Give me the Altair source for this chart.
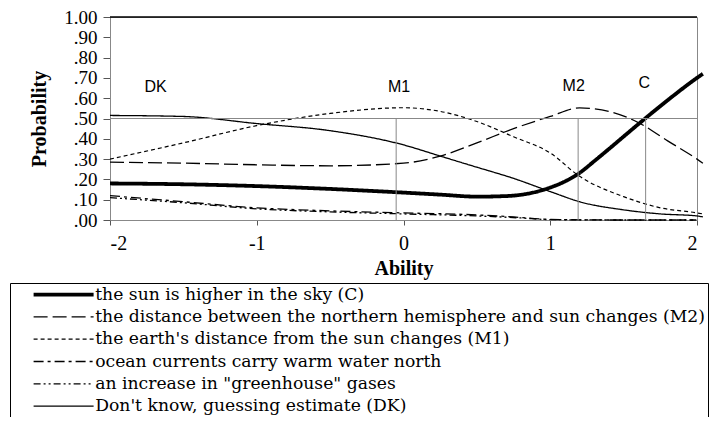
import altair as alt
import pandas as pd

series_order = [
    "the sun is higher in the sky (C)",
    "the distance between the northern hemisphere and sun changes (M2)",
    "the earth's distance from the sun changes (M1)",
    "ocean currents carry warm water north",
    "an increase in \"greenhouse\" gases",
    "Don't know, guessing estimate (DK)",
]

c_x = [-2, -1.5, -1, -0.5, 0, 0.25, 0.5, 0.7, 0.9, 1.0, 1.1, 1.2, 1.3, 1.4, 1.6, 1.8, 2.0, 2.04]
c_y = [0.18, 0.176, 0.167, 0.153, 0.135, 0.125, 0.115, 0.118, 0.138, 0.16, 0.19, 0.232, 0.29, 0.35, 0.472, 0.59, 0.70, 0.72]

m2_x = [-2, -1.5, -1, -0.5, 0, 0.25, 0.5, 0.75, 1.0, 1.2, 1.4, 1.6, 1.8, 2.0, 2.04]
m2_y = [0.285, 0.28, 0.272, 0.267, 0.28, 0.315, 0.38, 0.45, 0.51, 0.552, 0.535, 0.48, 0.39, 0.30, 0.28]

m1_x = [-2, -1.5, -1, -0.5, 0, 0.25, 0.5, 0.75, 1.0, 1.2, 1.5, 1.75, 2.0, 2.04]
m1_y = [0.30, 0.38, 0.465, 0.525, 0.553, 0.535, 0.485, 0.41, 0.33, 0.215, 0.115, 0.06, 0.035, 0.03]

ocean_x = [-2, -1.5, -1, -0.5, 0, 0.5, 0.75, 1.0, 1.5, 2.0]
ocean_y = [0.12, 0.09, 0.06, 0.045, 0.035, 0.025, 0.015, 0.003, 0.0, 0.0]

green_x = [-2, -1.5, -1, -0.5, 0, 0.5, 0.8, 1.0, 1.5, 2.0]
green_y = [0.11, 0.085, 0.055, 0.04, 0.03, 0.02, 0.01, 0.002, 0.0, 0.0]

dk_x = [-2, -1.5, -1, -0.5, 0, 0.25, 0.5, 0.75, 1.0, 1.2, 1.5, 1.75, 2.0, 2.04]
dk_y = [0.515, 0.51, 0.475, 0.44, 0.37, 0.315, 0.26, 0.205, 0.14, 0.09, 0.05, 0.03, 0.02, 0.015]

cut_x = [-0.05, 1.19, 1.65]
cut_level = 0.5

label_text = ["DK", "M1", "M2", "C"]
label_x = [-1.69, -0.03, 1.16, 1.64]
label_y = [0.655, 0.655, 0.66, 0.675]

x_ticks = [-2, -1, 0, 1, 2]
y_ticks = [i / 10 for i in range(11)]

dash_range = [[1, 0], [14, 5], [4, 3], [10, 4, 3, 4], [7, 3, 2, 3, 2, 3], [1, 0]]
width_range = [3.8, 1.3, 1.2, 1.3, 1.3, 1.3]

rows = []
for name, xs, ys in zip(series_order,
                        [c_x, m2_x, m1_x, ocean_x, green_x, dk_x],
                        [c_y, m2_y, m1_y, ocean_y, green_y, dk_y]):
    for a, p in zip(xs, ys):
        rows.append({"series": name, "ability": a, "prob": p})
curves = pd.DataFrame(rows)

cuts = pd.DataFrame({"x": cut_x, "y0": [0.0] * len(cut_x), "y1": [cut_level] * len(cut_x)})
hline = pd.DataFrame({"y": [cut_level]})
topline = pd.DataFrame({"y": [1.0]})
labels = pd.DataFrame({"t": label_text, "x": label_x, "y": label_y})

serif = "Liberation Serif"
legend_font = "DejaVu Serif"
sans = "Liberation Sans"

xscale = alt.Scale(domain=[-2, 2], nice=False)
yscale = alt.Scale(domain=[0, 1], nice=False)

xaxis = alt.Axis(title="Ability", values=x_ticks, grid=False, labelOverlap=False,
                 labelExpr="datum.value + ''",
                 labelFont=serif, labelFontSize=20, labelColor="black", labelPadding=8,
                 tickSize=5, tickColor="#555", domainColor="#888",
                 titleFont=serif, titleFontSize=20, titleFontWeight="bold", titleColor="black",
                 titlePadding=5)
yaxis = alt.Axis(title="Probability", values=y_ticks, grid=False, labelOverlap=False,
                 labelExpr="replace(format(datum.value, '.2f'), '0.', '.')",
                 labelFont=serif, labelFontSize=19, labelColor="black", labelPadding=6,
                 tickSize=7, tickColor="#555", domainColor="#888",
                 titleFont=serif, titleFontSize=20, titleFontWeight="bold", titleColor="black",
                 titlePadding=14)

legend = alt.Legend(title=None, orient="none", legendX=-100, legendY=266, direction="vertical",
                    symbolType="M-6,0H6", symbolSize=100, symbolStrokeColor="black",
                    labelFont=legend_font, labelFontSize=17.2, labelColor="black", labelLimit=1000,
                    strokeColor="black", padding=3, symbolOffset=42, labelOffset=23,
                    rowPadding=4.3, fillColor="white")

lines = alt.Chart(curves).mark_line(color="black", interpolate="monotone").encode(
    x=alt.X("ability:Q", scale=xscale, axis=xaxis),
    y=alt.Y("prob:Q", scale=yscale, axis=yaxis),
    strokeDash=alt.StrokeDash("series:N", scale=alt.Scale(type="ordinal", domain=series_order, range=dash_range), legend=legend),
    strokeWidth=alt.StrokeWidth("series:N", scale=alt.Scale(type="ordinal", domain=series_order, range=width_range), legend=legend),
    order=alt.Order("ability:Q"),
)

hl = alt.Chart(hline).mark_rule(color="#888", strokeWidth=1).encode(
    y=alt.Y("y:Q", scale=yscale, axis=yaxis))
vl = alt.Chart(cuts).mark_rule(color="#888", strokeWidth=1).encode(
    x=alt.X("x:Q", scale=xscale, axis=xaxis), y=alt.Y("y0:Q", scale=yscale, axis=yaxis), y2="y1:Q")
tl = alt.Chart(topline).mark_rule(color="black", strokeWidth=1.5).encode(
    y=alt.Y("y:Q", scale=yscale, axis=yaxis))

txt = alt.Chart(labels).mark_text(font=sans, fontSize=16, color="black").encode(
    x=alt.X("x:Q", scale=xscale, axis=xaxis), y=alt.Y("y:Q", scale=yscale, axis=yaxis), text="t:N")

chart = alt.layer(lines, hl, vl, tl, txt).properties(
    width=587, height=203,
    autosize=alt.AutoSizeParams(type="none"),
    padding={"top": 9, "left": 102, "right": 12, "bottom": 197},
).configure_view(stroke="#888", strokeWidth=1).configure_axis(labelOverlap=False)

chart.save("out.html", embed_options={"renderer": "svg", "actions": False})
